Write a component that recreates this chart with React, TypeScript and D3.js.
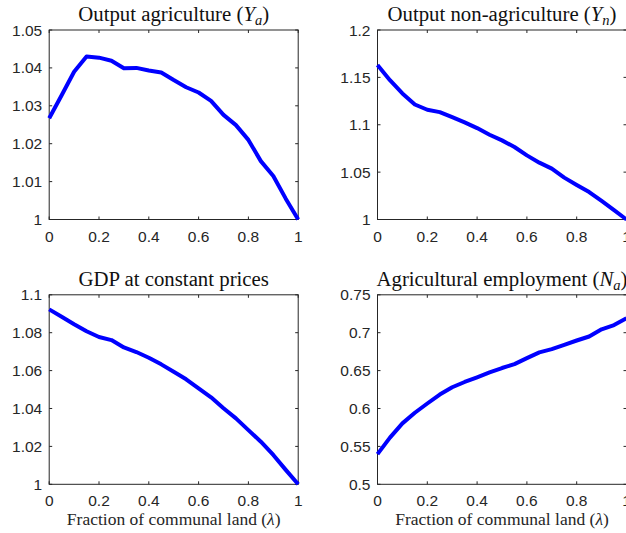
import React, { useRef, useEffect } from "react";
import * as d3 from "d3";

// fraction of communal land (lambda)
const lambda = [0, 0.05, 0.1, 0.15, 0.2, 0.25, 0.3, 0.35, 0.4, 0.45, 0.5, 0.55, 0.6, 0.65, 0.7, 0.75, 0.8, 0.85, 0.9, 0.95, 1];

const outputAgri = [1.0267, 1.0328, 1.039, 1.043, 1.0427, 1.0419, 1.0399, 1.04, 1.0393, 1.0388, 1.0368, 1.0349, 1.0335, 1.0313, 1.0276, 1.0249, 1.021, 1.0154, 1.0115, 1.0055, 1.0];
const outputNonAgri = [1.163, 1.147, 1.133, 1.1214, 1.1158, 1.1133, 1.108, 1.1025, 1.0965, 1.0895, 1.0835, 1.0765, 1.0677, 1.06, 1.0537, 1.0442, 1.0365, 1.029, 1.0196, 1.0098, 1.0];
const gdpConst = [1.0923, 1.0884, 1.0845, 1.0808, 1.0777, 1.0761, 1.0722, 1.0698, 1.0668, 1.0633, 1.0594, 1.0554, 1.0506, 1.0459, 1.0401, 1.0348, 1.0286, 1.0225, 1.0155, 1.0076, 1.0];
const agriEmployment = [0.5398, 0.5616, 0.5804, 0.5944, 0.6066, 0.6184, 0.628, 0.635, 0.6412, 0.6477, 0.6534, 0.6586, 0.6665, 0.674, 0.6783, 0.684, 0.6897, 0.695, 0.7045, 0.71, 0.719];

const xTicks = [0, 0.2, 0.4, 0.6, 0.8, 1];
const xTickLabels = ["0", "0.2", "0.4", "0.6", "0.8", "1"];
const yTicksAgri = [1, 1.01, 1.02, 1.03, 1.04, 1.05];
const yTicksNonAgri = [1, 1.05, 1.1, 1.15, 1.2];
const yTicksGdp = [1, 1.02, 1.04, 1.06, 1.08, 1.1];
const yTicksEmp = [0.5, 0.55, 0.6, 0.65, 0.7, 0.75];

const xLabelText = "Fraction of communal land";

const W = 626;
const H = 533;
const TICK_FONT = "'Liberation Sans', Arial, sans-serif";
const SERIF = "'Liberation Serif', 'Times New Roman', serif";
const AXIS_COLOR = "#262626";

const App = () => {
  const node: any = useRef();

  useEffect(() => {
    const svg = d3.select(node.current);
    svg.selectAll("*").remove();
    svg.attr("width", W).attr("height", H);

    const colX = [49.2, 377.5];
    const rowY = [30, 294.8];
    const pw = 249;
    const ph = 189.5;

    const panels = [
      { main: "Output agriculture (", sym: "Y", sub: "a", values: outputAgri, domain: [1, 1.05], ticks: yTicksAgri, col: 0, row: 0 },
      { main: "Output non-agriculture (", sym: "Y", sub: "n", values: outputNonAgri, domain: [1, 1.2], ticks: yTicksNonAgri, col: 1, row: 0 },
      { main: "GDP at constant prices", sym: "", sub: "", values: gdpConst, domain: [1, 1.1], ticks: yTicksGdp, col: 0, row: 1 },
      { main: "Agricultural employment (", sym: "N", sub: "a", values: agriEmployment, domain: [0.5, 0.75], ticks: yTicksEmp, col: 1, row: 1 },
    ];

    panels.forEach((p) => {
      const left = colX[p.col];
      const top = rowY[p.row];
      const g = svg.append("g").attr("transform", `translate(${left},${top})`);

      const x = d3.scaleLinear().domain([0, 1]).range([0, pw]);
      const y = d3.scaleLinear().domain(p.domain).range([ph, 0]);

      // frame
      g.append("rect")
        .attr("width", pw)
        .attr("height", ph)
        .attr("fill", "white")
        .attr("stroke", AXIS_COLOR)
        .attr("stroke-width", 1);

      // inward ticks on all four sides
      const tl = 3;
      xTicks.forEach((t) => {
        g.append("line").attr("x1", x(t)).attr("x2", x(t)).attr("y1", ph).attr("y2", ph - tl).attr("stroke", AXIS_COLOR);
        g.append("line").attr("x1", x(t)).attr("x2", x(t)).attr("y1", 0).attr("y2", tl).attr("stroke", AXIS_COLOR);
      });
      p.ticks.forEach((t) => {
        g.append("line").attr("x1", 0).attr("x2", tl).attr("y1", y(t)).attr("y2", y(t)).attr("stroke", AXIS_COLOR);
        g.append("line").attr("x1", pw).attr("x2", pw - tl).attr("y1", y(t)).attr("y2", y(t)).attr("stroke", AXIS_COLOR);
      });

      // tick labels
      g.selectAll("text.xt")
        .data(xTicks)
        .enter()
        .append("text")
        .attr("x", (d) => x(d))
        .attr("y", ph + 22)
        .attr("text-anchor", "middle")
        .attr("font-family", TICK_FONT)
        .attr("font-size", 15.5)
        .attr("fill", AXIS_COLOR)
        .text((d, i) => xTickLabels[i]);

      g.selectAll("text.yt")
        .data(p.ticks)
        .enter()
        .append("text")
        .attr("x", -7)
        .attr("y", (d) => y(d))
        .attr("dy", "0.36em")
        .attr("text-anchor", "end")
        .attr("font-family", TICK_FONT)
        .attr("font-size", 15.5)
        .attr("fill", AXIS_COLOR)
        .text((d) => String(+d.toFixed(2)));

      // the curve
      const line = d3
        .line<number>()
        .x((d, i) => x(lambda[i]))
        .y((d) => y(d));
      g.append("path")
        .datum(p.values)
        .attr("d", line)
        .attr("fill", "none")
        .attr("stroke", "#0000ff")
        .attr("stroke-width", 4)
        .attr("stroke-linejoin", "round");

      // title
      const title = g
        .append("text")
        .attr("x", pw / 2)
        .attr("y", -9)
        .attr("text-anchor", "middle")
        .attr("font-family", SERIF)
        .attr("font-size", 20.8)
        .attr("fill", "#111");
      title.append("tspan").text(p.main);
      if (p.sym) {
        title.append("tspan").attr("font-style", "italic").text(p.sym);
        title.append("tspan").attr("font-style", "italic").attr("font-size", 14.5).attr("dy", 4).text(p.sub);
        title.append("tspan").attr("dy", -4).text(")");
      }

      // x label on the bottom row
      if (p.row === 1) {
        const xl = g
          .append("text")
          .attr("x", pw / 2)
          .attr("y", ph + 41)
          .attr("text-anchor", "middle")
          .attr("font-family", SERIF)
          .attr("font-size", 17.5)
          .attr("fill", AXIS_COLOR);
        xl.append("tspan").text(xLabelText + " (");
        xl.append("tspan").attr("font-style", "italic").text("λ");
        xl.append("tspan").text(")");
      }
    });
  }, []);

  return (
    <div style={{ position: "absolute", left: 0, top: 0 }}>
      <svg ref={node} style={{ display: "block" }}></svg>
    </div>
  );
};

export default App;
